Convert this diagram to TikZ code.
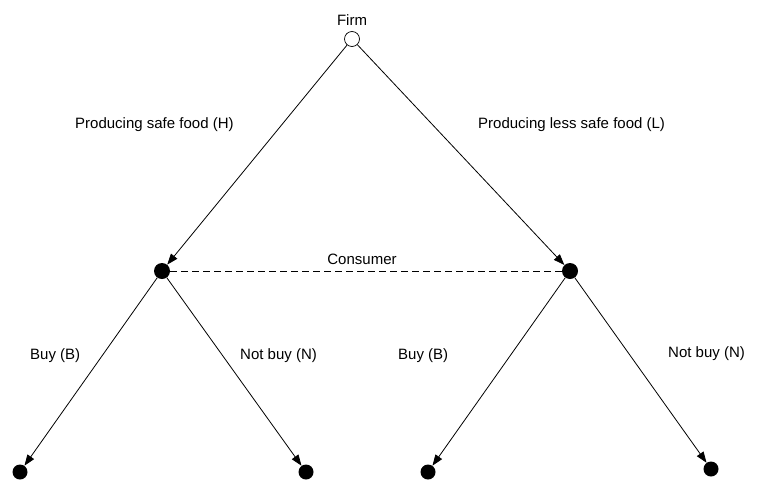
\documentclass[tikz,border=0pt]{standalone}
\usepackage{fontspec}
\setmainfont{Liberation Sans}
\usetikzlibrary{arrows.meta}
\begin{document}
\begin{tikzpicture}[x=1pt,y=-1pt,
  open/.style={circle,draw,fill=white,line width=0.7pt,minimum size=15pt,inner sep=0pt},
  dot/.style={circle,fill=black,minimum size=16pt,inner sep=0pt},
  leaf/.style={circle,fill=black,minimum size=15pt,inner sep=0pt},
  arr/.style={line width=0.8pt,-{Triangle[length=11pt,width=8pt]}},
  lbl/.style={font=\fontsize{15}{18}\selectfont,inner sep=0pt}]
\useasboundingbox (0,0) rectangle (759,482);
\node[open] (root) at (352,39) {};
\node[dot] (L) at (162,271) {};
\node[dot] (R) at (570,271) {};
\node[leaf] (LL) at (20,472) {};
\node[leaf] (LR) at (306,472) {};
\node[leaf] (RL) at (428,472) {};
\node[leaf] (RR) at (711,469) {};
\draw[arr] (root) -- (L);
\draw[arr] (root) -- (R);
\draw[arr] (L) -- (LL);
\draw[arr] (L) -- (LR);
\draw[arr] (R) -- (RL);
\draw[arr] (R) -- (RR);
\draw[line width=0.8pt,dash pattern=on 7pt off 4pt] (L) -- (R);
\node[lbl] (tf) at (352,20) {Firm};
\node[lbl,anchor=west] (th) at (75,125) {Producing safe food (H)};
\node[lbl,anchor=west] (tl) at (478,125) {Producing less safe food (L)};
\node[lbl] (tc) at (362,259) {Consumer};
\node[lbl,anchor=west] (b1) at (30,356) {Buy (B)};
\node[lbl,anchor=west] (n1) at (240,356) {Not buy (N)};
\node[lbl,anchor=west] (b2) at (398,356) {Buy (B)};
\node[lbl,anchor=west] (n2) at (668,354) {Not buy (N)};
\end{tikzpicture}
\end{document}
